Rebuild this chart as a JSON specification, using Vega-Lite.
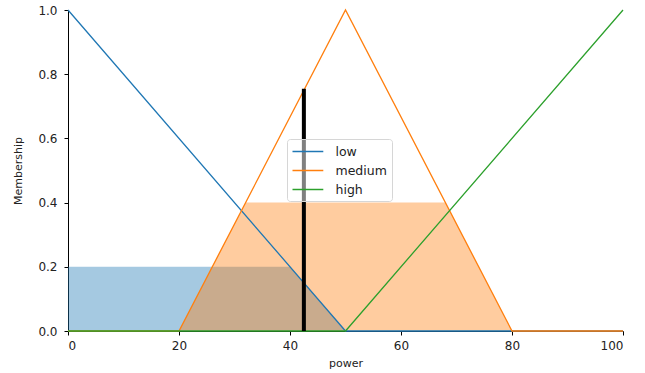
{
  "$schema": "https://vega.github.io/schema/vega-lite/v6.json",
  "autosize": {"type": "none"},
  "width": 555,
  "height": 321,
  "padding": {"left": 68, "top": 10, "right": 22, "bottom": 42},
  "background": "white",
  "config": {
    "view": {"stroke": null},
    "font": "DejaVu Sans",
    "axis": {
      "grid": false,
      "domainColor": "#000",
      "tickColor": "#000",
      "labelColor": "#222",
      "titleColor": "#222",
      "labelFont": "DejaVu Sans",
      "titleFont": "DejaVu Sans",
      "labelFontSize": 12,
      "titleFontSize": 11,
      "titleFontWeight": "normal",
      "tickSize": 4,
      "domainWidth": 1,
      "tickWidth": 1
    },
    "legend": {
      "labelFont": "DejaVu Sans",
      "labelFontSize": 12.5,
      "labelColor": "#222"
    }
  },
  "datasets": {
    "lines": [
      {"x": 0, "y": 1, "term": "low"},
      {"x": 50, "y": 0, "term": "low"},
      {"x": 100, "y": 0, "term": "low"},
      {"x": 0, "y": 0, "term": "medium"},
      {"x": 20, "y": 0, "term": "medium"},
      {"x": 50, "y": 1, "term": "medium"},
      {"x": 80, "y": 0, "term": "medium"},
      {"x": 100, "y": 0, "term": "medium"},
      {"x": 0, "y": 0, "term": "high"},
      {"x": 50, "y": 0, "term": "high"},
      {"x": 100, "y": 1, "term": "high"}
    ],
    "lowfill": [
      {"x": 0, "y": 0.2},
      {"x": 40, "y": 0.2},
      {"x": 50, "y": 0},
      {"x": 100, "y": 0}
    ],
    "medfill": [
      {"x": 0, "y": 0},
      {"x": 20, "y": 0},
      {"x": 32, "y": 0.4},
      {"x": 68, "y": 0.4},
      {"x": 80, "y": 0},
      {"x": 100, "y": 0}
    ],
    "crisp": [
      {"x": 42.5, "y": 0, "y2": 0.755}
    ]
  },
  "layer": [
    {
      "data": {"name": "lowfill"},
      "mark": {"type": "area", "color": "#1f77b4", "opacity": 0.4},
      "encoding": {
        "x": {"field": "x", "type": "quantitative", "scale": {"domain": [0, 100], "nice": false, "zero": false},
          "axis": {"values": [0, 20, 40, 60, 80, 100], "title": "power", "labelPadding": 5, "titlePadding": 6}},
        "y": {"field": "y", "type": "quantitative", "scale": {"domain": [0, 1], "nice": false},
          "axis": {"values": [0, 0.2, 0.4, 0.6, 0.8, 1.0], "format": ".1f", "title": "Membership", "labelPadding": 7, "titlePadding": 14}}
      }
    },
    {
      "data": {"name": "medfill"},
      "mark": {"type": "area", "color": "#ff7f0e", "opacity": 0.4},
      "encoding": {
        "x": {"field": "x", "type": "quantitative"},
        "y": {"field": "y", "type": "quantitative"}
      }
    },
    {
      "data": {"name": "lines"},
      "mark": {"type": "line", "strokeWidth": 1.3},
      "encoding": {
        "x": {"field": "x", "type": "quantitative"},
        "y": {"field": "y", "type": "quantitative"},
        "color": {
          "field": "term", "type": "nominal",
          "scale": {"domain": ["low", "medium", "high"], "range": ["#1f77b4", "#ff7f0e", "#2ca02c"]},
          "legend": {
            "title": null,
            "orient": "none",
            "legendX": 219,
            "legendY": 129,
            "zindex": 2,
            "symbolType": "M-1,0H3.4",
            "symbolSize": 196,
            "symbolStrokeWidth": 1.5,
            "labelOffset": 28,
            "padding": 4.5,
            "rowPadding": 4,
            "strokeColor": "#d6d6d6",
            "fillColor": "rgba(255,255,255,0.5)",
            "cornerRadius": 3
          }
        }
      }
    },
    {
      "data": {"name": "crisp"},
      "mark": {"type": "rule", "color": "black", "strokeWidth": 4},
      "encoding": {
        "x": {"field": "x", "type": "quantitative"},
        "y": {"field": "y", "type": "quantitative"},
        "y2": {"field": "y2"}
      }
    }
  ]
}
